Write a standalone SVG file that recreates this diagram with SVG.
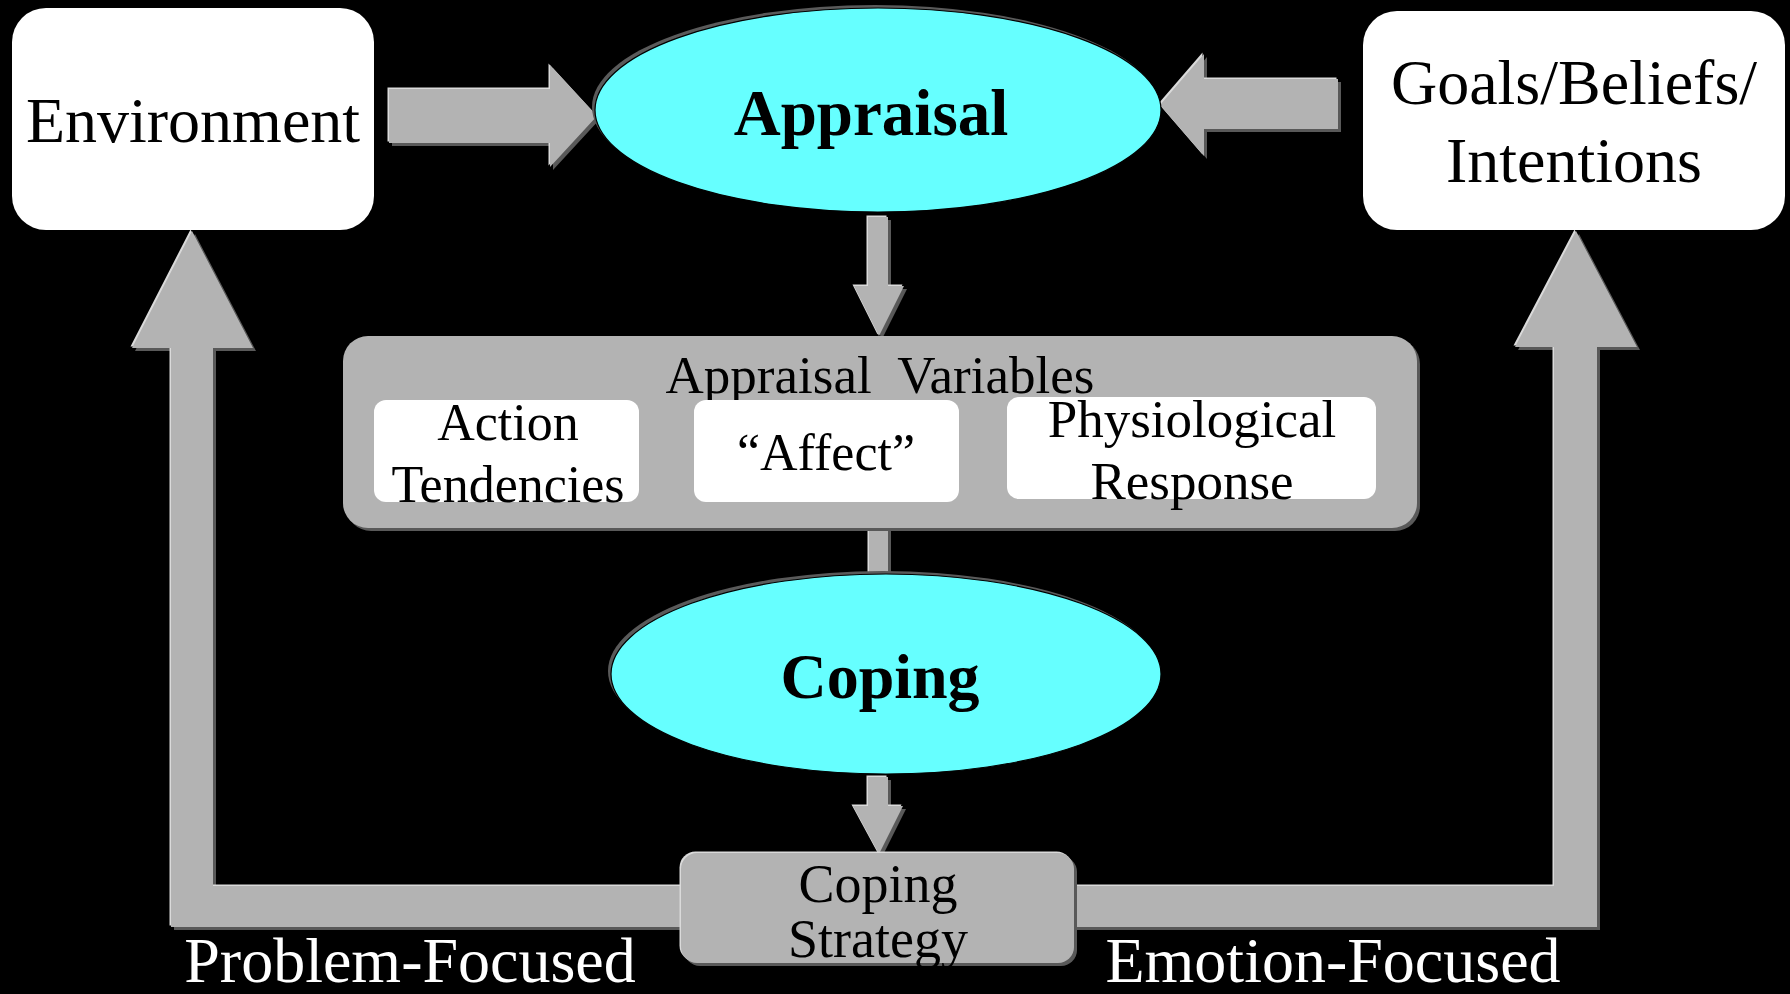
<svg xmlns="http://www.w3.org/2000/svg" width="1790" height="994" viewBox="0 0 1790 994">
<style>
.t{font-family:"Liberation Serif","Times New Roman",serif;fill:#000;text-anchor:middle}
.b{font-weight:bold}
.w{fill:#fff}
.box{fill:#fff}
.gray{fill:#b3b3b3}
.sh{fill:#595959}
.hl{fill:#dadada}
.cy{fill:#66ffff;stroke:#000;stroke-width:1.2}
.cysh{fill:#5a5a5a}
</style>
<defs>
<polygon id="aRight" points="389,89 550,89 550,65 597,116 550,167 550,143 389,143"/>
<polygon id="aLeft" points="1338,79 1204,79 1204,54 1160,105 1204,156 1204,129 1338,129"/>
<polygon id="aDown1" points="868,217 888,217 888,286 904,286 879,336 854,286 868,286"/>
<polygon id="aDown2" points="868,777 888,777 888,806 903,806 879,854 853,806 868,806"/>
<rect id="stub" x="869" y="527" width="19" height="50"/>
<polygon id="uLeft" points="685,886 213,886 213,348 253,348 192,231 132,348 171,348 171,927 685,927"/>
<polygon id="uRight" points="1070,886 1554,886 1554,347 1515,347 1576,231 1637,347 1597,347 1597,927 1070,927"/>
</defs>
<rect width="1790" height="994" fill="#000"/>
<g id="connectors">
  <g transform="translate(3,3)" class="sh">
    <use href="#aRight"/><use href="#aLeft"/><use href="#aDown1"/><use href="#aDown2"/><use href="#stub"/><use href="#uLeft"/><use href="#uRight"/>
  </g>
  <g transform="translate(-1.5,-1.5)" class="hl">
    <use href="#aRight"/><use href="#aLeft"/><use href="#aDown1"/><use href="#aDown2"/><use href="#stub"/><use href="#uLeft"/><use href="#uRight"/>
  </g>
  <g class="gray">
    <use href="#aRight"/><use href="#aLeft"/><use href="#aDown1"/><use href="#aDown2"/><use href="#stub"/><use href="#uLeft"/><use href="#uRight"/>
  </g>
</g>
<g id="environment">
  <rect class="box" x="12" y="8" width="362" height="222" rx="34"/>
  <text class="t" x="193" y="142" font-size="64">Environment</text>
</g>
<g id="goals">
  <rect class="box" x="1363" y="11" width="422" height="219" rx="34"/>
  <text class="t" x="1574" y="104" font-size="64">Goals/Beliefs/</text>
  <text class="t" x="1574" y="182" font-size="64">Intentions</text>
</g>
<g id="appraisal">
  <ellipse class="cysh" cx="875" cy="107" rx="283" ry="102"/>
  <ellipse class="cy" cx="878" cy="110" rx="283" ry="102"/>
  <text class="t b" x="871" y="135" font-size="65">Appraisal</text>
</g>
<g id="appraisal-variables">
  <rect class="sh" x="346" y="339" width="1074" height="192" rx="25"/>
  <rect class="gray" x="343" y="336" width="1074" height="192" rx="25"/>
  <text class="t" x="880" y="393" font-size="53" style="white-space:pre">Appraisal  Variables</text>
</g>
<g id="action-tendencies">
  <rect class="box" x="374" y="400" width="265" height="102" rx="12"/>
  <text class="t" x="508" y="440" font-size="52">Action</text>
  <text class="t" x="508" y="502" font-size="52">Tendencies</text>
</g>
<g id="affect">
  <rect class="box" x="694" y="400" width="265" height="102" rx="12"/>
  <text class="t" x="826" y="470" font-size="52">“Affect”</text>
</g>
<g id="physiological-response">
  <rect class="box" x="1007" y="397" width="369" height="102" rx="12"/>
  <text class="t" x="1192" y="437" font-size="53">Physiological</text>
  <text class="t" x="1192" y="499" font-size="53">Response</text>
</g>
<g id="coping">
  <ellipse class="cysh" cx="883" cy="671" rx="275" ry="100"/>
  <ellipse class="cy" cx="886" cy="674" rx="275" ry="100"/>
  <text class="t b" x="880" y="698" font-size="64">Coping</text>
</g>
<g id="coping-strategy">
  <rect class="sh" x="684" y="856" width="393" height="110" rx="16"/>
  <rect class="hl" x="679.5" y="851.5" width="393" height="110" rx="16"/>
  <rect class="gray" x="681" y="853" width="393" height="110" rx="16"/>
  <text class="t" x="878" y="902" font-size="54">Coping</text>
  <text class="t" x="878" y="957" font-size="54">Strategy</text>
</g>
<g id="labels">
  <text class="t w" x="410" y="982" font-size="64">Problem-Focused</text>
  <text class="t w" x="1333" y="982" font-size="64">Emotion-Focused</text>
</g>
</svg>
